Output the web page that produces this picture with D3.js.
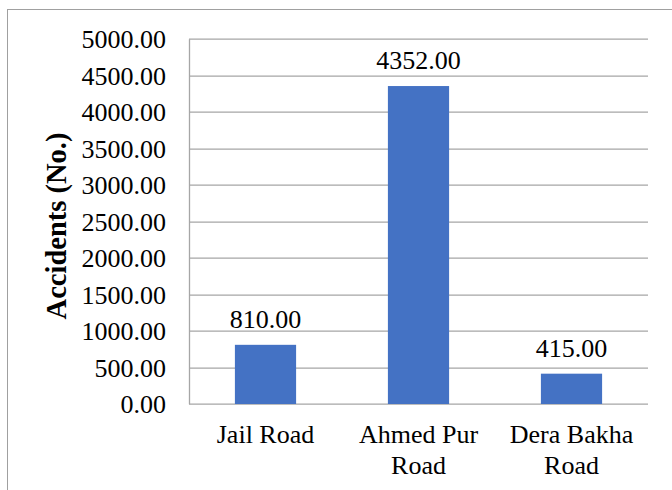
<!DOCTYPE html>
<html>
<head>
<meta charset="utf-8">
<script src="https://cdn.jsdelivr.net/npm/d3@7"></script>
<style>
  body { margin: 0; background: #fff; }
  svg text { font-family: "Times New Roman", "Liberation Serif", Tinos, "DejaVu Serif", serif; fill: #000; }
</style>
</head>
<body>
<div id="chart"></div>
<script>
// Road accidents per road
let roads = [["Jail Road"], ["Ahmed Pur", "Road"], ["Dera Bakha", "Road"]];
let accidents = [810, 4352, 415];
let yTicks = [0, 500, 1000, 1500, 2000, 2500, 3000, 3500, 4000, 4500, 5000];

let W = 672, H = 490;
let m = { t: 38.7, l: 189, r: 24, b: 86 };
let w = W - m.l - m.r;
let h = H - m.t - m.b;
let serif = "'Times New Roman', 'Liberation Serif', Tinos, 'DejaVu Serif', serif";

let svg = d3.select("#chart").append("svg")
    .attr("width", W)
    .attr("height", H)
    .attr("font-family", serif);

// outer frame
svg.append("rect")
    .attr("x", 7.5).attr("y", 9.5)
    .attr("width", W).attr("height", H)
    .attr("fill", "none")
    .attr("stroke", "#a0a0a0");

let g = svg.append("g").attr("transform", "translate(" + m.l + "," + m.t + ")");

let x = d3.scaleBand().domain(d3.range(roads.length)).range([0, w]).paddingInner(0.6).paddingOuter(0.3);
let y = d3.scaleLinear().domain([0, 5000]).range([h, 0]);

// gridlines
g.selectAll("line.grid")
    .data(yTicks)
    .enter().append("line")
    .attr("class", "grid")
    .attr("x1", 0).attr("x2", w)
    .attr("y1", function (d) { return Math.round(y(d)) + 0.5; })
    .attr("y2", function (d) { return Math.round(y(d)) + 0.5; })
    .attr("stroke", "#a6a6a6")
    .attr("stroke-width", 1.3);

// left axis line
g.append("line")
    .attr("x1", 0.5).attr("x2", 0.5)
    .attr("y1", Math.round(y(5000)) + 0.5).attr("y2", Math.round(y(0)) + 0.5)
    .attr("stroke", "#a6a6a6")
    .attr("stroke-width", 1.3);

// y tick labels
let yAxis = d3.axisLeft(y).tickValues(yTicks).tickSize(0).tickPadding(23)
    .tickFormat(function (d) { return d3.format(".2f")(d); });
g.append("g").call(yAxis)
    .attr("font-family", serif)
    .attr("font-size", 26)
    .call(function (a) { a.select(".domain").remove(); })
    .selectAll("text")
    .attr("dy", "0.34em");

// bars
g.selectAll("rect.bar")
    .data(accidents)
    .enter().append("rect")
    .attr("class", "bar")
    .attr("x", function (d, i) { return x(i); })
    .attr("y", function (d) { return y(d); })
    .attr("width", x.bandwidth())
    .attr("height", function (d) { return y(0) - y(d); })
    .attr("fill", "#4472C4");

// value labels
g.selectAll("text.val")
    .data(accidents)
    .enter().append("text")
    .attr("class", "val")
    .attr("x", function (d, i) { return x(i) + x.bandwidth() / 2; })
    .attr("y", function (d) { return y(d) - 17; })
    .attr("text-anchor", "middle")
    .style("font-size", "26px")
    .text(function (d) { return d3.format(".2f")(d); });

// category labels
let cats = g.selectAll("text.cat")
    .data(roads)
    .enter().append("text")
    .attr("class", "cat")
    .attr("text-anchor", "middle")
    .attr("transform", function (d, i) { return "translate(" + (x(i) + x.bandwidth() / 2) + "," + (h + 39) + ")"; })
    .style("font-size", "26px");
cats.selectAll("tspan")
    .data(function (d) { return d; })
    .enter().append("tspan")
    .attr("x", 0)
    .attr("y", function (d, i) { return i * 31; })
    .text(function (d) { return d; });

// y axis title
svg.append("text")
    .attr("transform", "translate(65.5,226) rotate(-90)")
    .attr("text-anchor", "middle")
    .style("font-size", "28.5px")
    .style("font-weight", "bold")
    .text("Accidents (No.)");
</script>
</body>
</html>
